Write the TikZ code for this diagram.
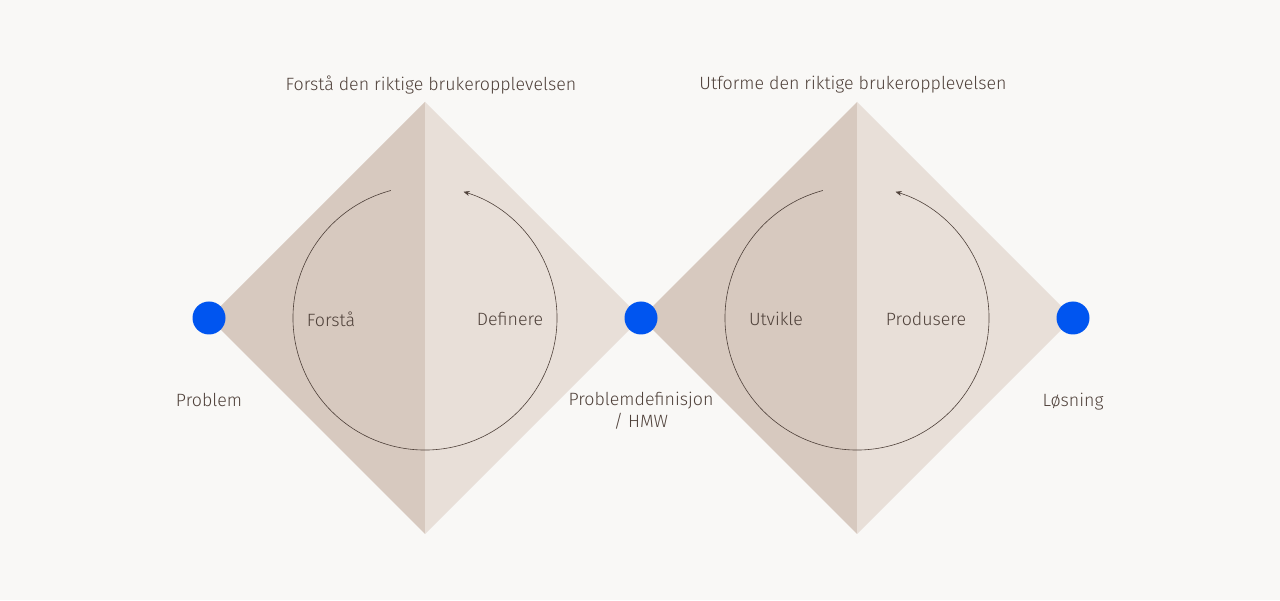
\documentclass[tikz,border=0pt]{standalone}
\usepackage{fontspec}
\setmainfont{Fira Sans Light}
\usetikzlibrary{calc,arrows.meta}
\newcommand{\HALFW}{216}
\newcommand{\RAD}{132}
\newcommand{\LINEPT}{0.6pt}
\definecolor{mybg}{HTML}{F9F8F6}
\definecolor{mydark}{HTML}{D7C9BF}
\definecolor{mylight}{HTML}{E8DFD8}
\definecolor{myblue}{HTML}{0055F0}
\definecolor{mytext}{HTML}{4F413A}

\begin{document}
\begin{tikzpicture}[x=1pt,y=1pt,
	lbl/.style={text=mytext,font=\fontsize{17.8}{22}\selectfont,align=center},
	dot/.style={circle,fill=myblue,minimum size=33pt,inner sep=0pt}]

		\fill[mybg] (0,0) rectangle (1280,600);
		\useasboundingbox (0,0) rectangle (1280,600);

		%% centres of the two diamonds
		\coordinate (c1) at (425,282);
		\coordinate (c2) at (857,282);

		%% diamonds, darker left half, lighter right half
		\fill[mydark] ($(c1)+(0,\HALFW)$) -- ($(c1)+(-\HALFW,0)$) -- ($(c1)+(0,-\HALFW)$) -- cycle;
		\fill[mylight] ($(c1)+(0,\HALFW)$) -- ($(c1)+(\HALFW,0)$) -- ($(c1)+(0,-\HALFW)$) -- cycle;
		\fill[mydark] ($(c2)+(0,\HALFW)$) -- ($(c2)+(-\HALFW,0)$) -- ($(c2)+(0,-\HALFW)$) -- cycle;
		\fill[mylight] ($(c2)+(0,\HALFW)$) -- ($(c2)+(\HALFW,0)$) -- ($(c2)+(0,-\HALFW)$) -- cycle;

		%% cycle arrows
		\draw[-{Stealth[length=6pt,width=5pt]},color=mytext,line width=\LINEPT] ($(c1)+(105:\RAD)$) arc(105:433:\RAD);
		\draw[-{Stealth[length=6pt,width=5pt]},color=mytext,line width=\LINEPT] ($(c2)+(105:\RAD)$) arc(105:433:\RAD);

		%% dots
		\node[dot] (start) at ($(c1)+(-\HALFW,0)$) {};
		\node[dot] (mid) at ($(c1)+(\HALFW,0)$) {};
		\node[dot] (end) at ($(c2)+(\HALFW,0)$) {};

		%% labels
		\node[lbl] (title1) at (431,515) {Forstå den riktige brukeropplevelsen};
		\node[lbl] (title2) at (853,515) {Utforme den riktige brukeropplevelsen};
		\node[lbl] (forsta) at (331,281) {Forstå};
		\node[lbl] (definere) at (510,281) {Definere};
		\node[lbl] (utvikle) at (776,281) {Utvikle};
		\node[lbl] (produsere) at (926,281) {Produsere};
		\node[lbl] (problem) at (209,200) {Problem};
		\node[lbl] (probdef) at (641,189) {Problemdefinisjon\\/ HMW};
		\node[lbl] (losning) at (1073,198) {Løsning};

	\end{tikzpicture}
\end{document}
